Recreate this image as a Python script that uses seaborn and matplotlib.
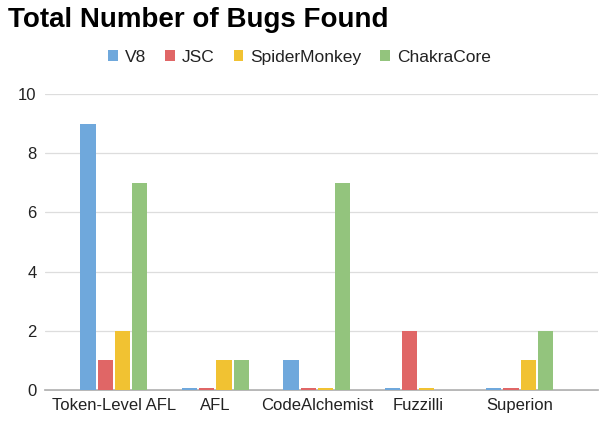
import pandas as pd
import seaborn as sns
import matplotlib.pyplot as plt

tools = ["Token-Level AFL", "AFL", "CodeAlchemist", "Fuzzilli", "Superion"]
engines = ["V8", "JSC", "SpiderMonkey", "ChakraCore"]
# tiny values stand in for the zero stubs drawn in the original
v8 = [9, 0.08, 1, 0.08, 0.08]
jsc = [1, 0.08, 0.08, 2, 0.08]
spidermonkey = [2, 1, 0.08, 0.08, 1]
chakracore = [7, 1, 7, 0, 2]
colors = ["#6fa8dc", "#e06666", "#f1c232", "#93c47d"]

rows = []
for eng, vals in zip(engines, [v8, jsc, spidermonkey, chakracore]):
    for t, v in zip(tools, vals):
        rows.append({"Tool": t, "Engine": eng, "Bugs": v})
df = pd.DataFrame(rows)

sns.set_style("white")
plt.rcParams['font.family'] = ['Liberation Sans', 'DejaVu Sans']

fig = plt.figure(figsize=(5.99, 4.23), dpi=100)
ax = fig.add_axes([0.075, 0.078, 0.923, 0.70])
sns.barplot(data=df, x="Tool", y="Bugs", hue="Engine", palette=colors,
            width=0.68, gap=0.12, saturation=1, linewidth=0, ax=ax, legend=True)

ax.set_xlim(-0.68, 4.77)
ax.set_ylim(0, 10)
ax.set_yticks([0, 2, 4, 6, 8, 10])
ax.yaxis.grid(True, color="#dddddd", linewidth=0.9)
ax.set_axisbelow(True)
for s in ["top", "right", "left"]:
    ax.spines[s].set_visible(False)
ax.spines["bottom"].set_color("#aaaaaa")
ax.spines["bottom"].set_linewidth(1.2)
ax.spines["bottom"].set_zorder(0.5)
ax.tick_params(axis="both", length=0, labelsize=12, colors="#222222", pad=6)
ax.set_xlabel("")
ax.set_ylabel("")

ax.legend(loc="center", bbox_to_anchor=(0.5, 0.865), bbox_transform=fig.transFigure,
          ncol=4, frameon=False,
          fontsize=12.5, handlelength=0.55, handleheight=0.55, handletextpad=0.4,
          columnspacing=1.1, labelcolor="#222222")

fig.text(0.013, 0.935, "Total Number of Bugs Found", fontsize=20,
         fontweight="bold", color="black")

fig.savefig("out.png", dpi=100)
